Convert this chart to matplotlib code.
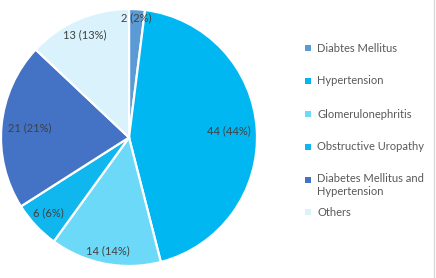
import numpy as np
import matplotlib
matplotlib.use("Agg")
from matplotlib import pyplot as plt
from matplotlib.patches import Rectangle
from matplotlib.lines import Line2D

# data
labels = ['Diabtes Mellitus', 'Hypertension', 'Glomerulonephritis',
          'Obstructive Uropathy', 'Diabetes Mellitus and\nHypertension', 'Others']
values = [2, 44, 14, 6, 21, 13]
colors = ['#5B9BD5', '#00B7F1', '#6DD9F8', '#10B6EE', '#4472C4', '#D9F2FC']

# radius fraction where each data label sits (Excel "best fit" look)
label_r = [0.96, 0.78, 0.90, 0.86, 0.78, 0.87]

plt.rcParams['font.family'] = ['Lato', 'DejaVu Sans']
txt_color = '#404040'

fig = plt.figure(figsize=(4.36, 2.78), dpi=100)
ax = fig.add_axes([1 / 436, 12 / 278, 256 / 436, 257 / 278])

wedges, _ = ax.pie(values, colors=colors, startangle=90, counterclock=False,
                   radius=1, wedgeprops=dict(edgecolor='white', linewidth=1.6))
ax.set_xlim(-1, 1)
ax.set_ylim(-1, 1)
ax.set_aspect('auto')
ax.axis('off')

total = sum(values)
for w, v, r in zip(wedges, values, label_r):
    ang = np.deg2rad((w.theta1 + w.theta2) / 2)
    ax.text(r * np.cos(ang), r * np.sin(ang) - (0.03 if v == 2 else 0),
            f'{v} ({round(100 * v / total)}%)',
            ha='center', va='center', fontsize=8, color=txt_color)

# legend drawn by hand to mimic the Excel layout
rows_y = [48, 81, 114, 147, 180, 212]
for lab, col, y in zip(labels, colors, rows_y):
    fig.add_artist(Rectangle((305 / 436, 1 - (y + 3) / 278), 6 / 436, 6 / 278,
                             transform=fig.transFigure, facecolor=col, edgecolor='none'))
    if '\n' in lab:
        fig.text(317 / 436, 1 - (y - 7) / 278, lab, ha='left', va='top',
                 fontsize=8, color='#595959', linespacing=1.2)
    else:
        fig.text(317 / 436, 1 - y / 278, lab, ha='left', va='center',
                 fontsize=8, color='#595959')

fig.add_artist(Line2D([434 / 436, 434 / 436], [0, 1], color='#D9D9D9', linewidth=1,
                      transform=fig.transFigure))

fig.savefig('out.png', dpi=100)
